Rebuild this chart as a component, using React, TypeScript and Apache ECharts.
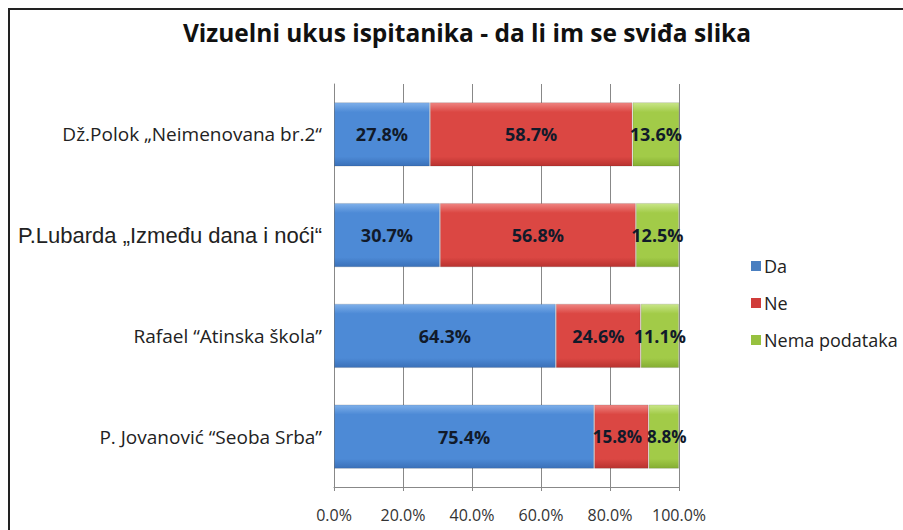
import React, { useEffect, useRef } from "react";
import * as echarts from "echarts";

const titleText = "Vizuelni ukus ispitanika - da li im se sviđa slika";
const categories = [
  "P. Jovanović “Seoba Srba”",
  "Rafael “Atinska škola”",
  "P.Lubarda „Između dana i noći“",
  "Dž.Polok „Neimenovana br.2“",
];
const seriesNames = ["Da", "Ne", "Nema podataka"];
const daValues = [75.4, 64.3, 30.7, 27.8];
const neValues = [15.8, 24.6, 56.8, 58.7];
const nemaValues = [8.8, 11.1, 12.5, 13.6];
const xTicks = [0, 20, 40, 60, 80, 100];

const FONT = "'Open Sans', sans-serif";

function grad(top: string, mid: string, bottom: string) {
  return new echarts.graphic.LinearGradient(0, 0, 0, 1, [
    { offset: 0, color: top },
    { offset: 0.15, color: mid },
    { offset: 0.85, color: mid },
    { offset: 1, color: bottom },
  ]);
}

export default function App() {
  const ref = useRef<HTMLDivElement>(null);
  useEffect(() => {
    if (!ref.current) return;
    const chart = echarts.init(ref.current, undefined, { renderer: "svg" });
    const colors = [
      grad("#7fb0ea", "#4d8ad6", "#3a70b8"),
      grad("#ef8582", "#db4743", "#b8322f"),
      grad("#c9e689", "#a2cb48", "#84ad32"),
    ];
    const legendColors = ["#4a7fc0", "#d03c3a", "#97c13f"];
    const values = [daValues, neValues, nemaValues];
    // small label nudges for the narrow segments in the bottom bar
    const nudges = [0, -4, 3];
    chart.setOption({
      animation: false,
      backgroundColor: "#ffffff",
      title: {
        text: titleText,
        left: 462,
        textAlign: "center",
        top: 15,
        textStyle: { fontFamily: FONT, fontWeight: "bold", fontSize: 24.5, color: "#111" },
      },
      legend: {
        orient: "vertical",
        left: 746,
        top: 252,
        itemWidth: 10,
        itemHeight: 10,
        itemGap: 19,
        itemStyle: { borderWidth: 0 },
        icon: "rect",
        textStyle: { fontFamily: FONT, fontSize: 18, color: "#222", padding: [0, 0, 0, -2] },
        data: seriesNames.map((n, i) => ({ name: n, itemStyle: { color: legendColors[i] } })),
      },
      grid: { left: 334, right: 224, top: 84, bottom: 43, containLabel: false },
      xAxis: {
        type: "value",
        min: 0,
        max: 100,
        interval: 20,
        axisLine: { show: true, lineStyle: { color: "#888", width: 1 } },
        axisTick: { show: true, length: 4, lineStyle: { color: "#888" } },
        splitLine: { show: true, lineStyle: { color: "#888", width: 1 } },
        axisLabel: {
          formatter: (v: number) => (xTicks.includes(v) ? v.toFixed(1) + "%" : ""),
          fontFamily: FONT,
          fontSize: 16,
          color: "#333",
          margin: 20,
        },
      },
      yAxis: {
        type: "category",
        data: categories,
        axisLine: { show: true, lineStyle: { color: "#888" } },
        axisTick: { show: false },
        axisLabel: {
          margin: 12,
          formatter: (v: string) => (v.startsWith("P.Lubarda") ? `{b|${v}}` : `{a|${v}}`),
          rich: {
            a: { fontFamily: FONT, fontSize: 19, color: "#222" },
            b: { fontFamily: "'Liberation Sans', Arial, sans-serif", fontSize: 22, color: "#222" },
          },
        },
      },
      series: seriesNames.map((name, i) => ({
        name,
        type: "bar",
        stack: "total",
        barWidth: "64%",
        data: values[i].map((v, j) =>
          j === 0 && nudges[i] !== 0
            ? { value: v, label: { offset: [nudges[i], 0], fontSize: 17 } }
            : v
        ),
        itemStyle: { color: colors[i], borderColor: "rgba(0,0,0,0.12)", borderWidth: 1 },
        label: {
          show: true,
          position: "inside",
          formatter: (p: any) => Number(p.value).toFixed(1) + "%",
          fontFamily: FONT,
          fontWeight: "bold",
          fontSize: 18,
          color: "#111a2a",
        },
      })),
      graphic: [
        {
          type: "rect",
          shape: { x: 9, y: 9, width: 1000, height: 1000 },
          style: { fill: "none", stroke: "#222", lineWidth: 2 },
          silent: true,
        },
      ],
    });
    return () => chart.dispose();
  }, []);
  return (
    <div
      ref={ref}
      style={{ position: "fixed", left: 0, top: 0, width: 903, height: 530 }}
    />
  );
}
